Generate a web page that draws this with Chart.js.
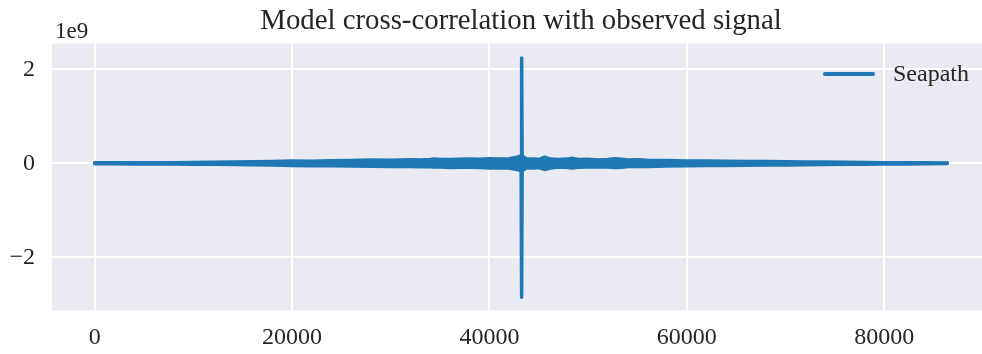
<!DOCTYPE html>
<html>
<head>
<meta charset="utf-8">
<script src="https://cdn.jsdelivr.net/npm/chart.js@4/dist/chart.umd.min.js"></script>
<style>
  html, body { margin: 0; padding: 0; background: #fff; overflow: hidden; }
  canvas { display: block; }
</style>
</head>
<body>
<canvas id="corrChart" width="990" height="354"></canvas>
<script>
// lag index (samples) and envelope of the cross-correlation, in units of 1e9
const lagX = [0, 2000, 4000, 6000, 8000, 10000, 12000, 14000, 16000, 18000, 20000, 22000, 24000, 26000, 28000,
  30000, 32000, 33000, 34000, 34400, 35000, 36000, 37000, 38000, 39000, 40000, 41000, 42000, 42800,
  43215, 43265, 43315, 43700, 44500, 45000, 45600, 46200, 47000, 48000, 48300, 49000, 50000, 51000,
  52000, 52700, 53400, 54000, 55000, 56000, 58000, 60000, 62000, 64000, 66000, 68000, 70000, 72000,
  74000, 76000, 78000, 80000, 82000, 84000, 86400];
const upperEnv = [0.01, 0.012, 0.012, 0.015, 0.015, 0.02, 0.025, 0.03, 0.035, 0.04, 0.05, 0.045, 0.055, 0.06, 0.07,
  0.065, 0.075, 0.07, 0.08, 0.095, 0.08, 0.08, 0.085, 0.09, 0.085, 0.1, 0.09, 0.1, 0.13,
  0.16, 2.24, 0.16, 0.1, 0.09, 0.08, 0.13, 0.09, 0.08, 0.09, 0.11, 0.08, 0.085, 0.07,
  0.08, 0.1, 0.085, 0.07, 0.075, 0.065, 0.06, 0.05, 0.05, 0.045, 0.04, 0.04, 0.035, 0.03,
  0.03, 0.025, 0.02, 0.015, 0.012, 0.01, 0.005];
const lowerEnv = [-0.01, -0.01, -0.012, -0.013, -0.015, -0.018, -0.02, -0.025, -0.03, -0.035, -0.045, -0.05, -0.05, -0.055, -0.06,
  -0.07, -0.065, -0.075, -0.075, -0.08, -0.08, -0.09, -0.085, -0.085, -0.09, -0.1, -0.095, -0.1, -0.13,
  -0.16, -2.85, -0.16, -0.1, -0.1, -0.09, -0.13, -0.1, -0.08, -0.09, -0.1, -0.085, -0.08, -0.075,
  -0.08, -0.09, -0.085, -0.07, -0.07, -0.065, -0.055, -0.05, -0.045, -0.045, -0.04, -0.035, -0.035, -0.03,
  -0.025, -0.02, -0.02, -0.015, -0.012, -0.01, -0.005];

const xTicks = [0, 20000, 40000, 60000, 80000];
const yTicks = [-2, 0, 2];
const seriesName = "Seapath";
const blue = "#1f77b4";
const serif = "'Liberation Serif', 'DejaVu Serif', serif";

const upperPts = lagX.map((x, i) => ({ x: x, y: upperEnv[i] }));
const lowerPts = lagX.map((x, i) => ({ x: x, y: lowerEnv[i] }));

// grey plot background, the legend inside the axes and the "1e9" offset text
const seabornBits = {
  id: "seabornBits",
  beforeDraw(chart) {
    const { ctx, chartArea: a } = chart;
    ctx.save();
    ctx.fillStyle = "#eaeaf2";
    ctx.fillRect(a.left, a.top, a.right - a.left, a.bottom - a.top);
    ctx.restore();
  },
  afterDraw(chart) {
    const { ctx, chartArea: a } = chart;
    ctx.save();
    // legend
    ctx.strokeStyle = blue;
    ctx.lineWidth = 4;
    ctx.lineCap = "round";
    ctx.beginPath();
    ctx.moveTo(825, 74);
    ctx.lineTo(873, 74);
    ctx.stroke();
    ctx.fillStyle = "#262626";
    ctx.font = "24px " + serif;
    ctx.textBaseline = "middle";
    ctx.fillText(seriesName, 893, 75);
    // offset label
    ctx.font = "23px " + serif;
    ctx.textBaseline = "alphabetic";
    ctx.fillText("1e9", a.left + 3, 38);
    ctx.restore();
  }
};

new Chart(document.getElementById("corrChart"), {
  type: "line",
  data: {
    datasets: [
      {
        label: seriesName,
        data: upperPts,
        borderColor: blue,
        borderWidth: 3.5,
        borderCapStyle: "round",
        borderJoinStyle: "round",
        pointRadius: 0,
        fill: false,
        tension: 0
      },
      {
        label: "_lower",
        data: lowerPts,
        borderColor: blue,
        backgroundColor: blue,
        borderWidth: 3.5,
        borderCapStyle: "round",
        borderJoinStyle: "round",
        pointRadius: 0,
        fill: "-1",
        tension: 0
      }
    ]
  },
  options: {
    responsive: false,
    animation: false,
    devicePixelRatio: 1,
    layout: { padding: 0 },
    plugins: {
      legend: { display: false },
      tooltip: { enabled: false },
      title: {
        display: true,
        fullSize: false,
        text: "Model cross-correlation with observed signal",
        color: "#262626",
        font: { family: serif, size: 28.8, weight: "normal" },
        padding: { top: 4, bottom: 5 }
      }
    },
    scales: {
      x: {
        type: "linear",
        min: -4320,
        max: 90720,
        afterBuildTicks: s => { s.ticks = xTicks.map(v => ({ value: v })); },
        afterFit: s => { s.height = 43.5; },
        border: { display: false },
        grid: { color: "#ffffff", lineWidth: 2, drawTicks: false },
        ticks: {
          color: "#262626",
          padding: 13,
          maxRotation: 0,
          font: { family: serif, size: 24 },
          callback: v => String(v)
        }
      },
      y: {
        type: "linear",
        min: -3.132,
        max: 2.549,
        afterBuildTicks: s => { s.ticks = yTicks.map(v => ({ value: v })); },
        afterFit: s => { s.width = 52; },
        border: { display: false },
        grid: { color: "#ffffff", lineWidth: 2, drawTicks: false },
        ticks: {
          color: "#262626",
          padding: 17,
          font: { family: serif, size: 24 },
          callback: v => (v < 0 ? "\u2212" + Math.abs(v) : String(v))
        }
      }
    }
  },
  plugins: [seabornBits]
});
</script>
</body>
</html>
